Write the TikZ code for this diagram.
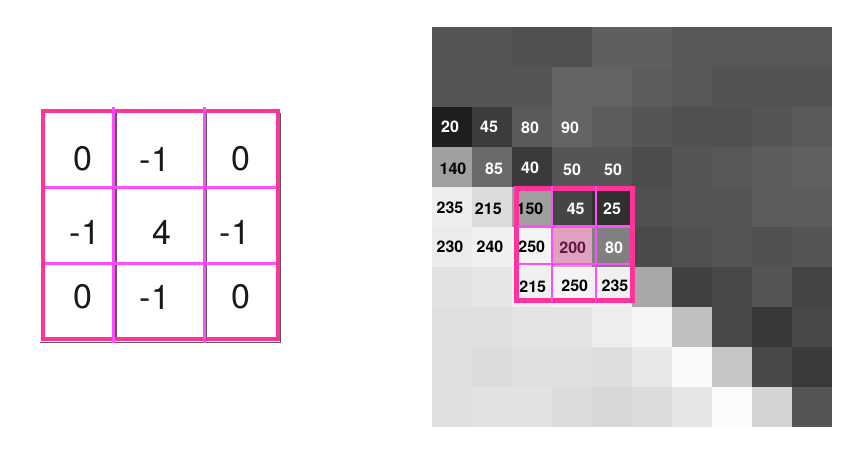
\documentclass[tikz,border=0pt]{standalone}
\usepackage{fontspec}
\setmainfont{TeX Gyre Heros}
\definecolor{outerpink}{RGB}{255,51,153}
\definecolor{innermag}{RGB}{255,77,255}
\definecolor{pinkcell}{RGB}{224,160,192}
\definecolor{maroon}{RGB}{92,26,64}
\definecolor{shadowgray}{RGB}{90,90,90}
\tikzset{
  kern/.style={font=\fontsize{34}{40}\selectfont, inner sep=0pt, text=black!90},
  pix/.style={font=\fontsize{16}{19}\selectfont\bfseries, inner sep=0pt},
  wt/.style={pix, text=white},
  bk/.style={pix, text=black},
  outerline/.style={draw=outerpink, line width=4.5pt},
  innerline/.style={draw=innermag, line width=3pt},
  shadowline/.style={draw=shadowgray, line width=1.1pt}
}
\begin{document}
\begin{tikzpicture}[x=1pt,y=-1pt]
\useasboundingbox (0,0) rectangle (854,464);
\fill[white] (0,0) rectangle (854,464);

% ---------- kernel ----------
\fill[white] (43,111) rectangle (278,339);
\draw[shadowline] (116,113) -- (116,341);
\draw[shadowline] (206.5,113) -- (206.5,341);
\draw[shadowline] (40,342.8) -- (281,342.8);
\draw[shadowline] (280.8,113) -- (280.8,343);
\draw[outerline] (43,111) rectangle (278,339);
\draw[innerline] (45,187) -- (276,187);
\draw[innerline] (45,263) -- (276,263);
\draw[innerline] (113.5,107) -- (113.5,343);
\draw[innerline] (204,107) -- (204,343);

\node[kern] (k11) at (83,159) {0};
\node[kern] (k12) at (155,159) {-1};
\node[kern] (k13) at (241,159) {0};
\node[kern] (k21) at (85,232) {-1};
\node[kern] (k22) at (162,232) {4};
\node[kern] (k23) at (235,232) {-1};
\node[kern] (k31) at (83,297) {0};
\node[kern] (k32) at (155,297) {-1};
\node[kern] (k33) at (241,297) {0};

% ---------- image grid ----------
\foreach \rowvals [count=\r from 0] in {
  {85,85,80,80,95,95,88,88,88,88},
  {85,85,85,100,100,92,88,83,83,83},
  {30,60,90,100,92,85,80,80,85,90},
  {160,106,58,85,85,76,85,88,92,96},
  {238,220,160,69,48,80,85,85,92,92},
  {236,240,244,224,128,74,80,85,80,85},
  {226,230,240,244,240,168,64,72,85,68},
  {224,224,228,228,238,246,192,72,56,72},
  {224,220,224,224,222,232,250,198,72,58},
  {224,226,226,220,216,220,230,252,212,85}} {
  \foreach \v [count=\c from 0] in \rowvals {
    \definecolor{cellc}{RGB}{\v,\v,\v}
    \fill[cellc] ({432+40*\c},{27+40*\r}) rectangle ++(40,40);
  }
}
\fill[pinkcell] (552,227) rectangle ++(40,40);

% numbers
\node[wt] (p20) at (450,126.5) {20};
\node[wt] (p21) at (489,126.5) {45};
\node[wt] (p22) at (530,127.5) {80};
\node[wt] (p23) at (570,127.5) {90};
\node[bk] (p30) at (453,169) {140};
\node[wt] (p31) at (494,169) {85};
\node[wt] (p32) at (530,167.5) {40};
\node[wt] (p33) at (572,170) {50};
\node[wt] (p34) at (613,170) {50};
\node[bk] (p40) at (450,208) {235};
\node[bk] (p41) at (488.3,208.5) {215};
\node[bk] (p42) at (530,208.5) {150};
\node[wt] (p43) at (575.7,209) {45};
\node[wt] (p44) at (612,209) {25};
\node[bk] (p50) at (450,246.5) {230};
\node[bk] (p51) at (490,246.5) {240};
\node[bk] (p52) at (531.7,246.5) {250};
\node[pix, text=maroon] (p53) at (572.7,247.5) {200};
\node[wt] (p54) at (614,247.5) {80};
\node[bk] (p62) at (532.7,287) {215};
\node[bk] (p63) at (574.7,286) {250};
\node[bk] (p64) at (615,286) {235};

% highlight box
\draw[outerline, line width=5pt] (516,188) rectangle (632,300);
\draw[innerline, line width=2.6pt] (518,226.5) -- (630,226.5);
\draw[innerline, line width=2.6pt] (518,264) -- (630,264);
\draw[innerline, line width=2.6pt] (552,186) -- (552,302);
\draw[innerline, line width=2.6pt] (596,186) -- (596,302);
\end{tikzpicture}
\end{document}
